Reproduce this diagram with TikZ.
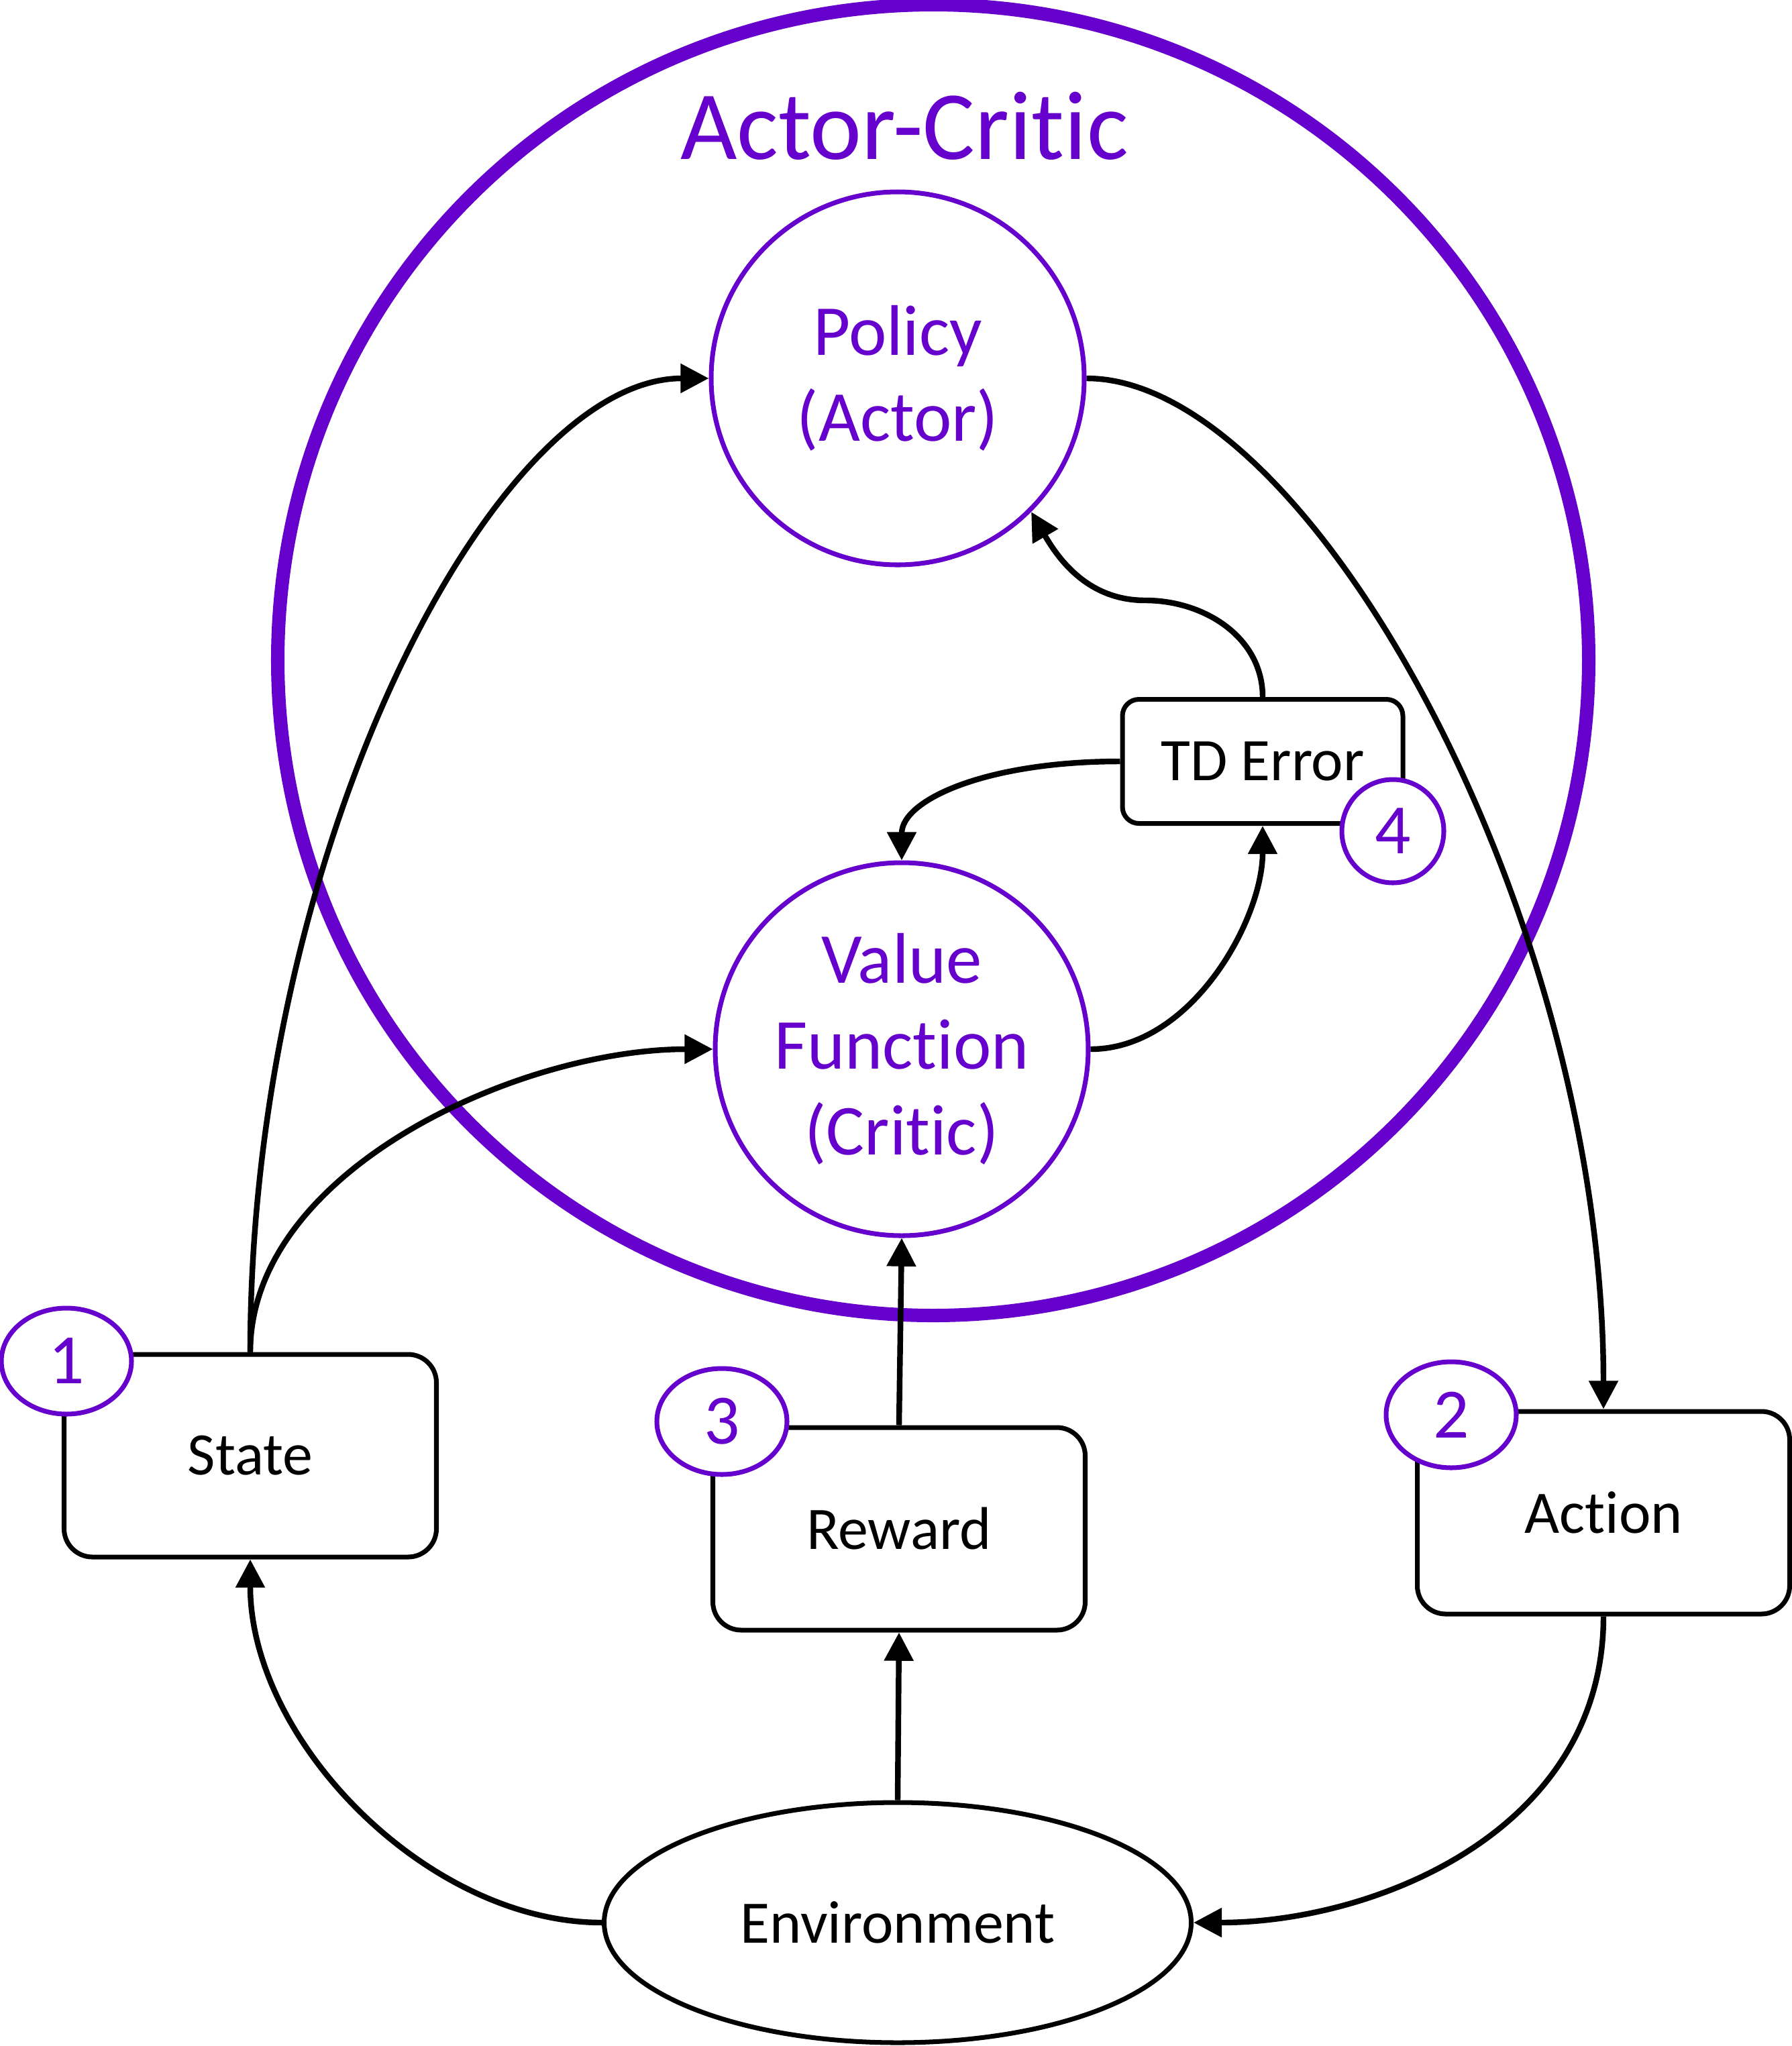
\documentclass[tikz,border=0pt]{standalone}
\usepackage{fontspec}
\setmainfont{Carlito}[Ligatures={NoCommon,NoContextual}]
\usepackage{xcolor}
\usetikzlibrary{shapes.geometric,arrows.meta}
\definecolor{acpurple}{HTML}{6600CC}

\begin{document}
\begin{tikzpicture}[
  box/.style={draw, line width=2pt, rounded corners=12pt, minimum width=5.55cm,
              minimum height=3.02cm, font=\fontsize{25.6pt}{30pt}\selectfont},
  ring/.style={circle, draw=acpurple, line width=2pt, minimum size=5.56cm, inner sep=0pt,
               align=center, text=acpurple, font=\fontsize{30.4pt}{36.4pt}\selectfont},
  badge/.style={ellipse, draw=acpurple, fill=white, line width=2pt, inner sep=0pt,
                minimum width=1.94cm, minimum height=1.58cm, text=acpurple,
                font=\fontsize{30pt}{36pt}\selectfont},
  flow/.style={line width=2.4pt, -{Triangle[length=12pt, width=12pt]}}
]
\useasboundingbox (0,0) rectangle (26.71,-30.50);
\draw[acpurple, line width=5.7pt] (13.91,-9.84) circle (9.77);
\node[font=\fontsize{41.5pt}{48pt}\selectfont, text=acpurple, anchor=base, inner sep=0pt]
  (hdr) at (13.48,-2.37) {Actor-Critic};
\node[ring] (Policy) at (13.38,-5.64) {Policy\\(Actor)};
\node[ring] (Value) at (13.44,-15.64) {Value\\Function\\(Critic)};
\node[box, rounded corners=7pt, minimum width=4.18cm, minimum height=1.85cm]
  (TDerr) at (18.82,-11.35) {TD Error};
\node[box] (State) at (3.73,-21.70) {State};
\node[box] (Reward) at (13.40,-22.79) {Reward};
\node[box] (Action) at (23.90,-22.55) {Action};
\node[ellipse, draw, line width=2pt, inner sep=0pt, minimum width=8.75cm, minimum height=3.58cm,
      font=\fontsize{25.6pt}{30pt}\selectfont] (Env) at (13.38,-28.66) {Environment};
\node[badge] (b1) at (0.99,-20.29) {1};
\node[badge] (b3) at (10.76,-21.19) {3};
\node[badge] (b2) at (21.63,-21.09) {2};
\node[badge, minimum width=1.52cm, minimum height=1.54cm] (b4) at (20.76,-12.39) {4};
\draw[flow] (State.north) .. controls +(0,7.5) and +(-3.2,0) .. (Policy.west);
\draw[flow] (State.north) .. controls +(0,2.7) and +(-2.9,0) .. (Value.west);
\draw[flow] (Policy.east) .. controls +(3.3,0) and +(0,7.4) .. (Action.north);
\draw[flow] (Action.south) .. controls +(0,-3.2) and +(2.7,0) .. (Env.east);
\draw[flow] (Env.west) .. controls +(-2.6,0) and +(0,-2.7) .. (State.south);
\draw[flow] (Env.north) -- (Reward.south);
\draw[flow] (Reward.north) -- (Value.south);
\draw[flow] (Value.east) .. controls +(1.5,0) and +(0,-1.4) .. (TDerr.south);
\draw[flow] (TDerr.west) .. controls +(-2.0,0) and +(0,0.9) .. (Value.north);
\draw[flow] (TDerr.north) to[out=90,in=0] ++(-1.75,1.44) to[out=180,in=-60] (Policy.-45);
\end{tikzpicture}
\end{document}
